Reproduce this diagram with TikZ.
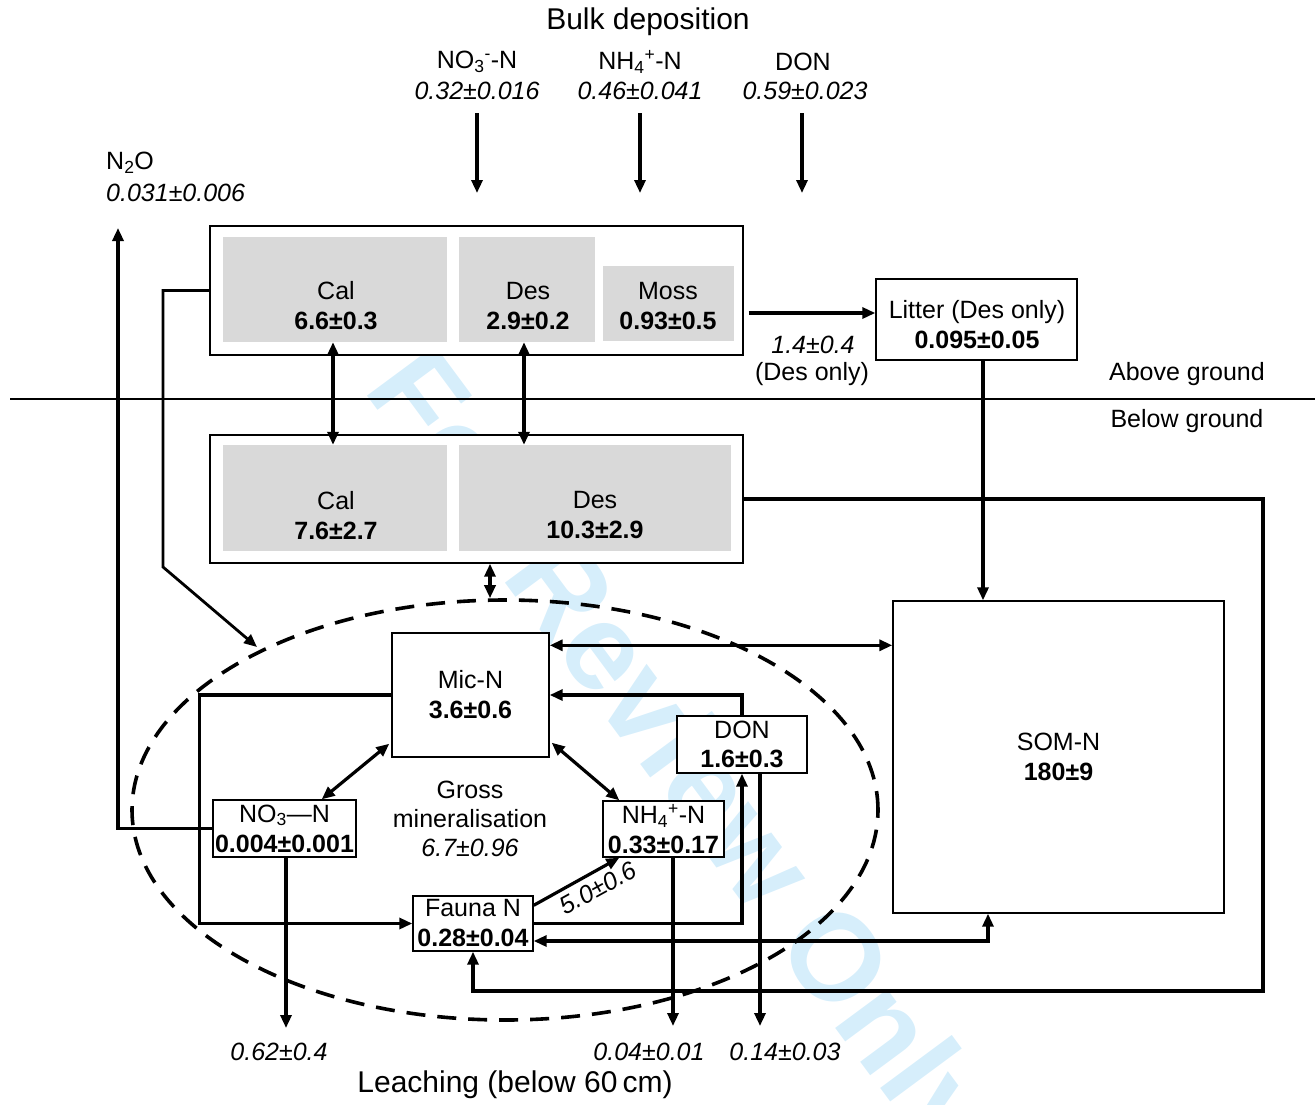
\documentclass[tikz,border=0pt]{standalone}
\usepackage{fontspec}
\setmainfont{Liberation Sans}
\usetikzlibrary{arrows.meta,calc,shapes.geometric}
\definecolor{boxgray}{HTML}{D9D9D9}
\definecolor{wmblue}{HTML}{D6EEFB}
\begin{document}
\begin{tikzpicture}[x=1pt,y=-1pt,
  txt/.style={font=\fontsize{25}{30}\selectfont, align=center, inner sep=0pt},
  lbl/.style={font=\fontsize{25}{29}\selectfont\itshape, inner sep=0pt},
  frame/.style={draw, line width=1.4pt, fill=white, inner sep=0pt},
  graybox/.style={fill=boxgray, inner sep=0pt},
  conn/.style={line width=3.2pt},
  arr/.style={conn, -{Triangle[length=13pt,width=11pt]}},
  darr/.style={conn, {Triangle[length=13pt,width=11pt]}-{Triangle[length=13pt,width=11pt]}},
]
\useasboundingbox (0,0) rectangle (1315,1104);
% watermark
\node[font=\fontsize{123}{123}\selectfont\bfseries, text=wmblue, rotate=-53.5, inner sep=0pt] (wm) at (675,758) {For Review Only};

% top labels
\node[txt, font=\fontsize{30}{30}\selectfont] (bulk) at (648,22) {Bulk deposition};
\node[txt] (dno3) at (477,62) {NO\textsubscript{3}\textsuperscript{-}-N};
\node[lbl] (dno3v) at (477,91) {0.32±0.016};
\node[txt] (dnh4) at (640,62) {NH\textsubscript{4}\textsuperscript{+}-N};
\node[lbl] (dnh4v) at (640,91) {0.46±0.041};
\node[txt] (ddon) at (803,62) {DON};
\node[lbl] (ddonv) at (805,91) {0.59±0.023};
\node[txt, anchor=west] (n2o) at (106,163) {N\textsubscript{2}O};
\node[lbl, anchor=west] (n2ov) at (106,193) {0.031±0.006};

% upper box
\node[frame, minimum width=533pt, minimum height=129pt] (upper) at (476.5,290.5) {};
\node[graybox, minimum width=224pt, minimum height=105pt] (ucal) at (335,289.5) {};
\node[graybox, minimum width=136pt, minimum height=105pt] (udes) at (527,289.5) {};
\node[graybox, minimum width=131pt, minimum height=75pt] (umoss) at (668.5,303.5) {};
\node[txt] (ucalt) at (336,306) {Cal\\\textbf{6.6±0.3}};
\node[txt] (udest) at (528,306) {Des\\\textbf{2.9±0.2}};
\node[txt] (umosst) at (668,306) {Moss\\\textbf{0.93±0.5}};

% litter
\node[frame, minimum width=201pt, minimum height=81pt] (litter) at (976.5,319.5) {};
\node[txt] (littert) at (977,325) {Litter (Des only)\\\textbf{0.095±0.05}};
\node[lbl] (litf) at (813,345) {1.4±0.4};
\node[txt] (litf2) at (812,374) {(Des only)};

% ground
\node[txt] (above) at (1187,374) {Above ground};
\node[txt] (below) at (1187,421) {Below ground};

% lower box
\node[frame, minimum width=533pt, minimum height=128pt] (lower) at (476.5,499) {};
\node[graybox, minimum width=224pt, minimum height=106pt] (lcal) at (335,498) {};
\node[graybox, minimum width=272pt, minimum height=106pt] (ldes) at (595,498) {};
\node[txt] (lcalt) at (336,515.5) {Cal\\\textbf{7.6±2.7}};
\node[txt] (ldest) at (595,515.5) {Des\\\textbf{10.3±2.9}};

% ellipse
\node[draw, ellipse, line width=3.6pt, dash pattern=on 19pt off 12pt, minimum width=746pt, minimum height=420pt, inner sep=0pt] (ell) at (505,810) {};

% soil pools
\node[frame, txt, minimum width=157pt, minimum height=124pt] (mic) at (470.5,695) {Mic-N\\\textbf{3.6±0.6}};
\node[frame, txt, minimum width=331pt, minimum height=312pt] (som) at (1058.5,757) {SOM-N\\\textbf{180±9}};
\node[frame, txt, font=\fontsize{25}{29}\selectfont, minimum width=130pt, minimum height=57pt] (don) at (742,744.5) {DON\\\textbf{1.6±0.3}};
\node[frame, txt, minimum width=143pt, minimum height=57pt] (no3) at (284.5,828.5) {NO\textsubscript{3}—N\\\textbf{0.004±0.001}};
\node[frame, txt, minimum width=121pt, minimum height=56pt] (nh4) at (663.5,829) {NH\textsubscript{4}\textsuperscript{+}-N\\\textbf{0.33±0.17}};
\node[frame, txt, minimum width=120pt, minimum height=55pt] (fauna) at (473,923.5) {Fauna N\\\textbf{0.28±0.04}};
\node[txt, font=\fontsize{25}{29}\selectfont] (gross) at (470,819) {Gross\\mineralisation\\\textit{6.7±0.96}};
\node[lbl, rotate=29] (faunaf) at (598,888) {5.0±0.6};

% leaching labels
\node[lbl] (lv1) at (279,1052) {0.62±0.4};
\node[lbl] (lv2) at (649,1052) {0.04±0.01};
\node[lbl] (lv3) at (785,1052) {0.14±0.03};
\node[txt, font=\fontsize{30}{30}\selectfont] (leach) at (515,1085) {Leaching (below 60\,cm)};

% coordinates for free ends
\coordinate (d1a) at (477,113); \coordinate (d1b) at (477,193);
\coordinate (d2a) at (640,113); \coordinate (d2b) at (640,193);
\coordinate (d3a) at (802,113); \coordinate (d3b) at (802,193);
\coordinate (n2otip) at (118,228);
\coordinate (ellin) at (257,647);
\coordinate (ul) at ($(upper.east)+(5,22.5)$);
\coordinate (lt) at ($(litter.south)+(6.5,0)$);
\coordinate (ms) at ($(mic.north east)+(0,13)$);
\coordinate (le1) at (286,1028);
\coordinate (le2) at (673,1026);
\coordinate (le3) at (760,1026);

% connectors
\draw[arr] (d1a) -- (d1b);
\draw[arr] (d2a) -- (d2b);
\draw[arr] (d3a) -- (d3b);
\draw[arr] (no3.west) -| (n2otip);
\draw[arr, line width=2.8pt] (upper.west) -| (163,567) -- (ellin);
\draw[darr] ($(ucal.south)+(-2,0)$) -- ($(lcal.north)+(-2,0)$);
\draw[darr] ($(udes.south)+(-3,0)$) -- ($(ldes.north)+(-71,0)$);
\draw[line width=1.5pt] (10,399) -- (1315,399);
\draw[arr] (ul) -- (ul -| litter.west);
\draw[arr] (lt) -- (lt |- som.north);
\draw[arr] (lower.east) -| (1263,991) -| (fauna.south);
\draw[darr] ($(lower.south)+(13.5,0)$) -- ($(ell.north)+(-15,0)$);
\draw[darr] (ms) -- (ms -| som.west);
\draw[arr] (don.north) |- (mic.east);
\draw[arr] (mic.west) -- ++(-192,0) |- (fauna.west);
\draw[darr] ($(no3.north east)+(-35,0)$) -- ($(mic.south west)+(-2,-14)$);
\draw[darr] ($(mic.south east)+(2,-15)$) -- ($(nh4.north west)+(17,0)$);
\draw[arr] ($(fauna.north east)+(0,10)$) -- ($(nh4.south west)+(17,0)$);
\draw[arr] (fauna.east) -| (don.south);
\draw[darr] ($(fauna.east)+(0,17.5)$) -| ($(som.south)+(-70.5,0)$);
\draw[arr] ($(no3.south)+(1.5,0)$) -- (le1);
\draw[arr] ($(nh4.south)+(9.5,0)$) -- (le2);
\draw[arr] ($(don.south)+(18,0)$) -- (le3);
\end{tikzpicture}
\end{document}
